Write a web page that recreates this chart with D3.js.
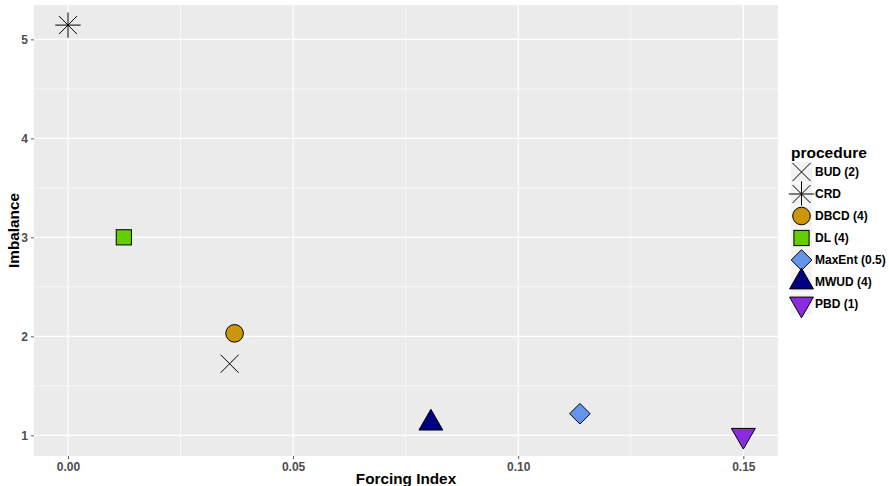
<!DOCTYPE html>
<html>
<head>
<meta charset="utf-8">
<script src="https://cdn.jsdelivr.net/npm/d3@7"></script>
<style>
  body { margin: 0; background: #fff; }
  text { font-family: "Liberation Sans", Arial, Helvetica, sans-serif; font-weight: bold; }
</style>
</head>
<body>
<svg id="chart" width="889" height="486"></svg>
<script>
// Randomization procedures: forcing index vs. imbalance
const procedures = ["BUD (2)", "CRD", "DBCD (4)", "DL (4)", "MaxEnt (0.5)", "MWUD (4)", "PBD (1)"];
const forcing    = [0.0359, 0.0, 0.0370, 0.0124, 0.1137, 0.0806, 0.1500];
const imbalance  = [1.723, 5.144, 2.03, 3.0, 1.218, 1.123, 1.0];
const shapes     = ["cross", "asterisk", "circle", "square", "diamond", "triangleUp", "triangleDown"];
const fills      = ["none", "none", "#CD950C", "#66CD00", "#6495ED", "#000080", "#8A2BE2"];
const xTicks = [0, 0.05, 0.10, 0.15];
const yTicks = [1, 2, 3, 4, 5];

const svg = d3.select("#chart");
const panel = { left: 34, right: 778, top: 5, bottom: 456 };

const x = d3.scaleLinear().domain([-0.00755, 0.1577]).range([panel.left, panel.right]);
const y = d3.scaleLinear().domain([0.791, 5.347]).range([panel.bottom, panel.top]);

// panel background
svg.append("rect")
  .attr("x", panel.left).attr("y", panel.top)
  .attr("width", panel.right - panel.left).attr("height", panel.bottom - panel.top)
  .attr("fill", "#EBEBEB");

// minor grid lines (midpoints between major ticks)
const xMinor = [-0.025, 0.025, 0.075, 0.125].filter(v => v >= x.domain()[0] && v <= x.domain()[1]);
const yMinor = [1.5, 2.5, 3.5, 4.5];
const grid = svg.append("g");
grid.selectAll(".xminor").data(xMinor).join("line")
  .attr("x1", d => x(d)).attr("x2", d => x(d))
  .attr("y1", panel.top).attr("y2", panel.bottom)
  .attr("stroke", "#fff").attr("stroke-width", 0.6);
grid.selectAll(".yminor").data(yMinor).join("line")
  .attr("y1", d => y(d)).attr("y2", d => y(d))
  .attr("x1", panel.left).attr("x2", panel.right)
  .attr("stroke", "#fff").attr("stroke-width", 0.6);
grid.selectAll(".xmajor").data(xTicks).join("line")
  .attr("x1", d => x(d)).attr("x2", d => x(d))
  .attr("y1", panel.top).attr("y2", panel.bottom)
  .attr("stroke", "#fff").attr("stroke-width", 1.2);
grid.selectAll(".ymajor").data(yTicks).join("line")
  .attr("y1", d => y(d)).attr("y2", d => y(d))
  .attr("x1", panel.left).attr("x2", panel.right)
  .attr("stroke", "#fff").attr("stroke-width", 1.2);

// axes
const xAxis = d3.axisBottom(x).tickValues(xTicks).tickFormat(d3.format(".2f")).tickSize(3).tickPadding(3);
const yAxis = d3.axisLeft(y).tickValues(yTicks).tickFormat(d3.format("d")).tickSize(3).tickPadding(3);

const gx = svg.append("g").attr("transform", `translate(0,${panel.bottom})`).call(xAxis);
const gy = svg.append("g").attr("transform", `translate(${panel.left},0)`).call(yAxis);
[gx, gy].forEach(g => {
  g.select(".domain").remove();
  g.selectAll(".tick line").attr("stroke", "#333").attr("stroke-width", 0.8);
  g.selectAll(".tick text").attr("fill", "#4D4D4D").style("font-size", "12px");
});

// axis titles
svg.append("text")
  .attr("x", (panel.left + panel.right) / 2).attr("y", 483.5)
  .attr("text-anchor", "middle").style("font-size", "15.3px").attr("fill", "#000")
  .text("Forcing Index");
svg.append("text")
  .attr("transform", `translate(19,${(panel.top + panel.bottom) / 2}) rotate(-90)`)
  .attr("text-anchor", "middle").style("font-size", "15.3px").attr("fill", "#000")
  .text("Imbalance");

// marker glyphs centred at origin
function glyph(sel, shape, fill) {
  const stroke = "#000";
  if (shape === "cross") {
    const r = 9;
    sel.append("path").attr("d", `M${-r},${-r}L${r},${r}M${-r},${r}L${r},${-r}`)
      .attr("stroke", stroke).attr("stroke-width", 1).attr("fill", "none");
  } else if (shape === "asterisk") {
    const r = 9, h = 12.7;
    sel.append("path")
      .attr("d", `M${-r},${-r}L${r},${r}M${-r},${r}L${r},${-r}M${-h},0L${h},0M0,${-h}L0,${h}`)
      .attr("stroke", stroke).attr("stroke-width", 1).attr("fill", "none");
  } else if (shape === "circle") {
    sel.append("circle").attr("r", 8.8).attr("fill", fill).attr("stroke", stroke).attr("stroke-width", 1);
  } else if (shape === "square") {
    const s = 7.6;
    sel.append("rect").attr("x", -s).attr("y", -s).attr("width", 2 * s).attr("height", 2 * s)
      .attr("fill", fill).attr("stroke", stroke).attr("stroke-width", 1);
  } else if (shape === "diamond") {
    const s = 10.3;
    sel.append("path").attr("d", `M0,${-s}L${s},0L0,${s}L${-s},0Z`)
      .attr("fill", fill).attr("stroke", stroke).attr("stroke-width", 1);
  } else if (shape === "triangleUp" || shape === "triangleDown") {
    const r = 13.8, half = r * Math.sqrt(3) / 2;
    const sgn = shape === "triangleUp" ? 1 : -1;
    sel.append("path")
      .attr("d", `M0,${-sgn * r}L${half},${sgn * r / 2}L${-half},${sgn * r / 2}Z`)
      .attr("fill", fill).attr("stroke", stroke).attr("stroke-width", 1);
  }
}

// points
const pts = svg.append("g");
procedures.forEach((p, i) => {
  const g = pts.append("g").attr("transform", `translate(${x(forcing[i])},${y(imbalance[i])})`);
  glyph(g, shapes[i], fills[i]);
});

// legend
const legend = svg.append("g").attr("transform", "translate(791,0)");
legend.append("text").attr("x", 0).attr("y", 158).style("font-size", "15.5px").attr("fill", "#000")
  .text("procedure");
const keyTop = 161, keyH = 22, keyW = 21;
procedures.forEach((p, i) => {
  const cy = keyTop + keyH * i + keyH / 2;
  legend.append("rect").attr("x", 0).attr("y", keyTop + keyH * i + 0.5)
    .attr("width", keyW).attr("height", keyH - 1).attr("fill", "#F2F2F2");
  const g = legend.append("g").attr("transform", `translate(${keyW / 2},${cy})`);
  glyph(g, shapes[i], fills[i]);
  legend.append("text").attr("x", keyW + 3).attr("y", cy + 4.3)
    .style("font-size", "12px").attr("fill", "#000").text(p);
});
</script>
</body>
</html>
